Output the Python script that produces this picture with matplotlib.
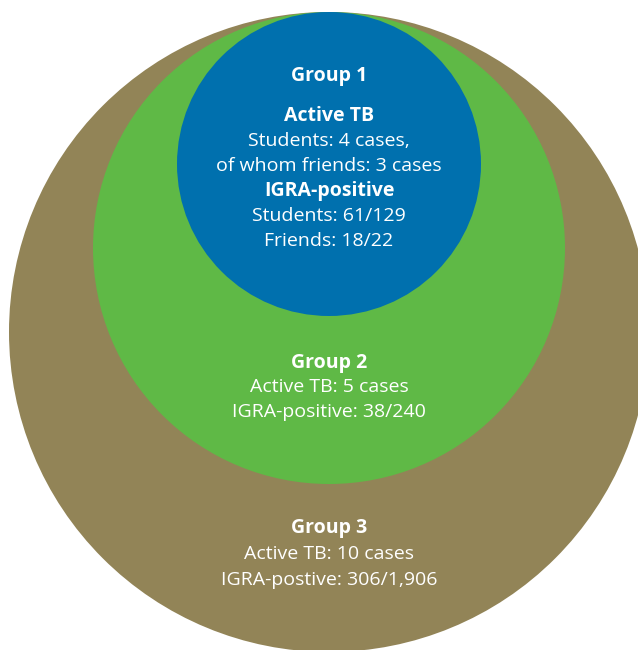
import matplotlib.pyplot as plt
from matplotlib.patches import Circle

# Gruppen und Texte
groups = ["Group 1", "Group 2", "Group 3"]
group1_lines = [("Active TB", True),
                ("Students: 4 cases,", False),
                ("of whom friends: 3 cases", False),
                ("IGRA-positive", True),
                ("Students: 61/129", False),
                ("Friends: 18/22", False)]
group2_lines = ["Active TB: 5 cases", "IGRA-positive: 38/240"]
group3_lines = ["Active TB: 10 cases", "IGRA-postive: 306/1,906"]

colors = ["#0070ae", "#5fb946", "#928457"]

plt.rcParams['font.family'] = ['Open Sans', 'DejaVu Sans']

fig = plt.figure(figsize=(6.38, 6.5), dpi=100)
ax = fig.add_axes([0, 0, 1, 1])
ax.set_xlim(0, 638)
ax.set_ylim(650, 0)
ax.set_aspect('equal')
ax.axis('off')

# Kreise, alle oben bei y=12 beruehrend
cx = 329
top = 12
radii = [152, 236, 320]
for r, col in zip(radii[::-1], colors[::-1]):
    ax.add_patch(Circle((cx, top + r), r, facecolor=col, edgecolor='none'))

fs = 14
ax.text(cx, 76, groups[0], ha='center', va='center', color='white', fontsize=fs, fontweight='bold')
y = 116
for line, bold in group1_lines:
    ax.text(cx, y, line, ha='center', va='center', color='white', fontsize=fs,
            fontweight='bold' if bold else 'normal')
    y += 25

ax.text(cx, 363, groups[1], ha='center', va='center', color='white', fontsize=fs, fontweight='bold')
for i, line in enumerate(group2_lines):
    ax.text(cx, 387 + i * 25, line, ha='center', va='center', color='white', fontsize=fs)

ax.text(cx, 528, groups[2], ha='center', va='center', color='white', fontsize=fs, fontweight='bold')
for i, line in enumerate(group3_lines):
    ax.text(cx, 554 + i * 26, line, ha='center', va='center', color='white', fontsize=fs)

fig.savefig("out.png", dpi=100)
